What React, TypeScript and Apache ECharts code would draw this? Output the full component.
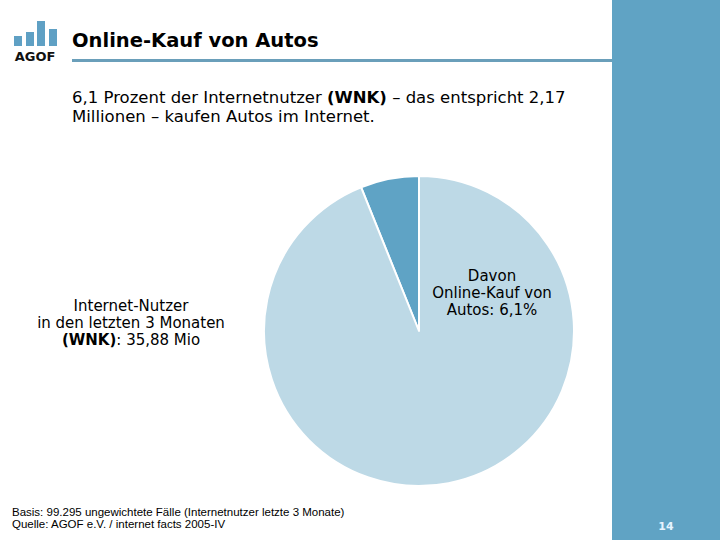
import React, { useEffect, useRef } from "react";
import * as echarts from "echarts";

const categories = ["Online-Kauf von Autos", "Übrige Internetnutzer"];
const shares = [6.1, 93.9];
const sliceColors = ["#5fa3c5", "#bdd9e6"];
const logoBars = [
  { x: 14, top: 36 },
  { x: 26, top: 32 },
  { x: 37, top: 21 },
  { x: 49, top: 29 },
];

const titleText = "Online-Kauf von Autos";
const subtitleText =
  "6,1 Prozent der Internetnutzer {b|(WNK)} – das entspricht 2,17\nMillionen – kaufen Autos im Internet.";
const leftLabel = "Internet-Nutzer\nin den letzten 3 Monaten\n{b|(WNK)}: 35,88 Mio";
const rightLabel = "Davon\nOnline-Kauf von\nAutos: 6,1%";
const footnote =
  "Basis: 99.295 ungewichtete Fälle (Internetnutzer letzte 3 Monate)\nQuelle: AGOF e.V. / internet facts 2005-IV";
const pageNumber = "14";

const FONT = "DejaVu Sans";

export default function App() {
  const ref = useRef<HTMLDivElement>(null);
  useEffect(() => {
    if (!ref.current) return;
    const chart = echarts.init(ref.current, undefined, { renderer: "svg" });
    const graphics: any[] = [
      { type: "rect", shape: { x: 612, y: 0, width: 108, height: 540 }, style: { fill: "#60a3c4" }, silent: true },
      { type: "rect", shape: { x: 72, y: 59, width: 540, height: 3 }, style: { fill: "#6a9fba" }, silent: true },
      ...logoBars.map((b) => ({
        type: "rect",
        shape: { x: b.x, y: b.top, width: 8, height: 46 - b.top },
        style: { fill: "#5fa0c4" },
        silent: true,
      })),
      {
        type: "text",
        x: 35,
        y: 56,
        style: { text: "AGOF", font: `bold 13px ${FONT}`, fill: "#111", align: "center", verticalAlign: "middle" },
      },
      {
        type: "text",
        x: 72,
        y: 40,
        style: { text: titleText, font: `bold 19.5px ${FONT}`, fill: "#000", align: "left", verticalAlign: "middle" },
      },
      {
        type: "text",
        x: 72,
        y: 88,
        style: {
          text: subtitleText,
          font: `16.5px ${FONT}`,
          fill: "#000",
          lineHeight: 19,
          align: "left",
          verticalAlign: "top",
          rich: { b: { font: `bold 16.5px ${FONT}`, fill: "#000", lineHeight: 19 } },
        },
      },
      {
        type: "text",
        x: 131,
        y: 297,
        style: {
          text: leftLabel,
          font: `15px ${FONT}`,
          fill: "#000",
          lineHeight: 17,
          align: "center",
          verticalAlign: "top",
          rich: { b: { font: `bold 15px ${FONT}`, fill: "#000", lineHeight: 17 } },
        },
      },
      {
        type: "text",
        x: 492,
        y: 267,
        z: 100,
        style: {
          text: rightLabel,
          font: `15px ${FONT}`,
          fill: "#000",
          lineHeight: 17,
          align: "center",
          verticalAlign: "top",
        },
      },
      {
        type: "text",
        x: 12,
        y: 506,
        style: {
          text: footnote,
          font: `11.5px "Liberation Sans"`,
          fill: "#000",
          lineHeight: 12,
          align: "left",
          verticalAlign: "top",
        },
      },
      {
        type: "text",
        x: 666,
        y: 526,
        style: { text: pageNumber, font: `bold 11px ${FONT}`, fill: "#e6f4ff", align: "center", verticalAlign: "middle" },
      },
    ];
    chart.setOption({
      animation: false,
      backgroundColor: "#ffffff",
      series: [
        {
          type: "pie",
          center: [419, 331],
          radius: 155,
          startAngle: 90,
          clockwise: false,
          silent: true,
          label: { show: false },
          labelLine: { show: false },
          itemStyle: { borderColor: "#ffffff", borderWidth: 2 },
          data: categories.map((name, i) => ({
            name,
            value: shares[i],
            itemStyle: { color: sliceColors[i] },
          })),
        },
      ],
      graphic: { elements: graphics },
    });
    return () => chart.dispose();
  }, []);
  return (
    <div
      ref={ref}
      style={{ position: "fixed", left: 0, top: 0, width: 720, height: 540 }}
    />
  );
}
